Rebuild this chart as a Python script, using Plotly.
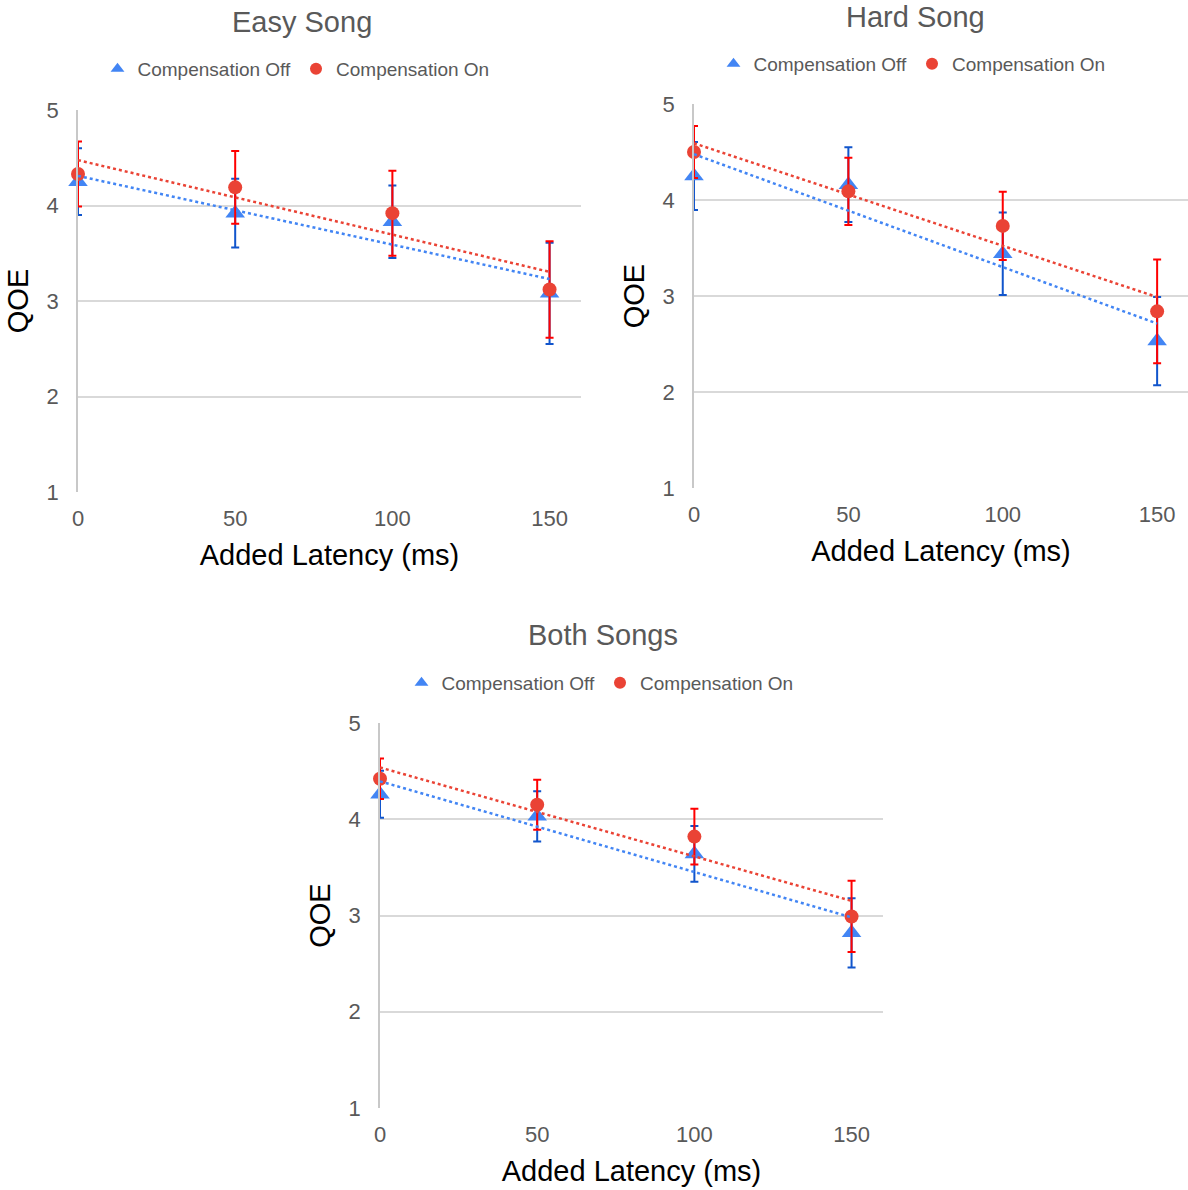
import numpy as np
import plotly.graph_objects as go

latency = [0, 50, 100, 150]
x_ticks = [0, 50, 100, 150]
y_ticks = [1, 2, 3, 4, 5]

easy_off = [4.25, 3.92, 3.83, 3.08]
easy_off_err = [0.35, 0.36, 0.38, 0.53]
easy_on = [4.33, 4.19, 3.92, 3.12]
easy_on_err = [0.34, 0.38, 0.445, 0.505]

hard_off = [4.25, 4.16, 3.44, 2.53]
hard_off_err = [0.355, 0.39, 0.43, 0.46]
hard_on = [4.50, 4.09, 3.73, 2.84]
hard_on_err = [0.27, 0.35, 0.355, 0.54]

both_off = [4.26, 4.03, 3.64, 2.82]
both_off_err = [0.245, 0.26, 0.29, 0.36]
both_on = [4.42, 4.15, 3.82, 2.99]
both_on_err = [0.21, 0.26, 0.29, 0.37]

titles = ["Easy Song", "Hard Song", "Both Songs"]
series_names = ["Compensation Off", "Compensation On"]

FONT = "Liberation Sans, Arial, sans-serif"
GRAY = "#595959"
BLUE = "#4285f4"
BLUE_ERR = "#1155cc"
RED = "#ea4335"
RED_ERR = "#ff0000"

W, H = 1188, 1190

panels = [
    dict(off=easy_off, off_err=easy_off_err, on=easy_on, on_err=easy_on_err,
         xdom=[78 / W, 581 / W], ydom=[1 - 492 / H, 1 - 110 / H],
         title_xy=(302, 22), legend_xy=(296, 69)),
    dict(off=hard_off, off_err=hard_off_err, on=hard_on, on_err=hard_on_err,
         xdom=[694 / W, 1.0], ydom=[1 - 488 / H, 1 - 104 / H],
         title_xy=(915, 17), legend_xy=(912, 64)),
    dict(off=both_off, off_err=both_off_err, on=both_on, on_err=both_on_err,
         xdom=[380 / W, 883 / W], ydom=[1 - 1108 / H, 1 - 723 / H],
         title_xy=(603, 635), legend_xy=(600, 683)),
]

fig = go.Figure()
layout = dict(
    width=W, height=H,
    margin=dict(l=0, r=0, t=0, b=0, autoexpand=False),
    paper_bgcolor="white", plot_bgcolor="white",
    font=dict(family=FONT, color=GRAY),
    annotations=[],
)

for i, p in enumerate(panels):
    n = "" if i == 0 else str(i + 1)
    xa, ya = "x" + n, "y" + n
    leg = "legend" + n

    fig.add_trace(go.Scatter(
        x=latency, y=p["off"], mode="markers", name=series_names[0],
        xaxis=xa, yaxis=ya, legend=leg, cliponaxis=False,
        marker=dict(symbol="triangle-up", size=17, color=BLUE),
        error_y=dict(type="data", array=p["off_err"], color=BLUE_ERR,
                     thickness=2, width=4),
    ))
    fig.add_trace(go.Scatter(
        x=latency, y=p["on"], mode="markers", name=series_names[1],
        xaxis=xa, yaxis=ya, legend=leg, cliponaxis=False,
        marker=dict(symbol="circle", size=14, color=RED),
        error_y=dict(type="data", array=p["on_err"], color=RED_ERR,
                     thickness=2, width=4),
    ))
    # linear trend lines fitted to each series
    for vals, col in ((p["off"], BLUE), (p["on"], RED)):
        slope, icpt = np.polyfit(latency, vals, 1)
        xs = [latency[0], latency[-1]]
        fig.add_trace(go.Scatter(
            x=xs, y=[icpt + slope * v for v in xs], mode="lines",
            xaxis=xa, yaxis=ya, showlegend=False, hoverinfo="skip",
            line=dict(color=col, width=2.5, dash="dot"),
        ))

    layout["xaxis" + n] = dict(
        domain=p["xdom"], anchor=ya, range=[0, 160],
        tickvals=x_ticks, showgrid=False, zeroline=False, showline=False,
        ticks="", ticklabelstandoff=11,
        tickfont=dict(size=22, color=GRAY, family=FONT),
        title=dict(text="Added Latency (ms)", standoff=14,
                   font=dict(size=29, color="black", family=FONT)),
    )
    layout["yaxis" + n] = dict(
        domain=p["ydom"], anchor=xa, range=[1, 5],
        tickvals=y_ticks, showgrid=True, gridcolor="#d9d9d9", gridwidth=1.5,
        zeroline=False, showline=True, linecolor="#c8c8c8", linewidth=1.5,
        ticks="", ticklabelstandoff=13,
        tickfont=dict(size=22, color=GRAY, family=FONT),
        title=dict(text="QOE", standoff=9,
                   font=dict(size=29, color="black", family=FONT)),
    )
    layout[leg] = dict(
        orientation="h", x=p["legend_xy"][0] / W, y=1 - p["legend_xy"][1] / H,
        xanchor="center", yanchor="middle", itemsizing="constant",
        font=dict(size=19, color=GRAY, family=FONT),
        bgcolor="rgba(0,0,0,0)", itemwidth=30,
    )
    layout["annotations"].append(dict(
        text=titles[i], x=p["title_xy"][0] / W, y=1 - p["title_xy"][1] / H,
        xref="paper", yref="paper", xanchor="center", yanchor="middle",
        showarrow=False, font=dict(size=29, color=GRAY, family=FONT),
    ))

fig.update_layout(**layout)
fig.write_html("out.html")
